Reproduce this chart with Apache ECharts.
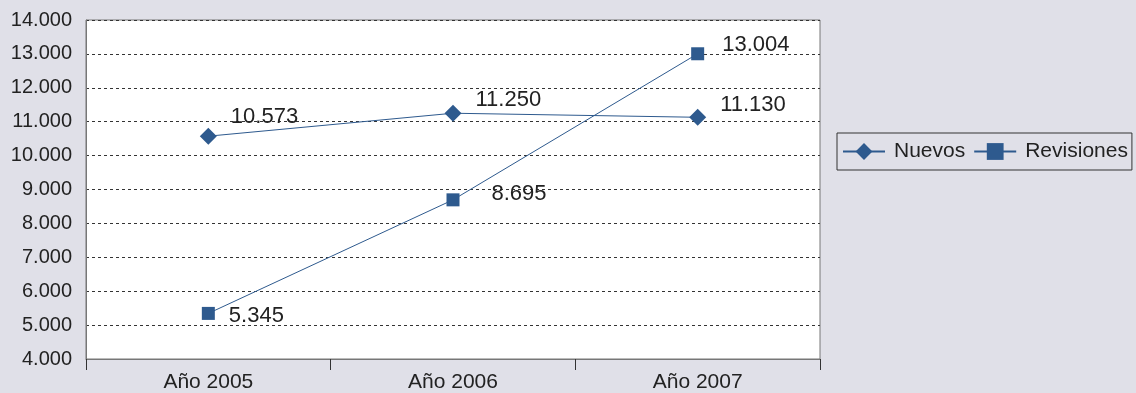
<!DOCTYPE html>
<html><head><meta charset="utf-8">
<script src="https://cdn.jsdelivr.net/npm/echarts@6/dist/echarts.min.js"></script>
<style>html,body{margin:0;padding:0;background:#e0e0e8;}#c{width:1136px;height:393px;}</style>
</head><body><div id="c"></div>
<script>
var categories = ['Año 2005', 'Año 2006', 'Año 2007'];
var nuevos = [10573, 11250, 11130];
var revisiones = [5345, 8695, 13004];
var seriesNames = ['Nuevos', 'Revisiones'];

function fmt(v){ return String(v).replace(/\B(?=(\d{3})+(?!\d))/g, '.'); }
var FONT = 'Liberation Sans';
var COLOR = '#2e5a8e';
var nuevosOffsets = [[0,-19],[0,-13],[0,-12]];
var revOffsets = [[0,3],[18,-6],[4,-9]];
function build(vals, offs){
  return vals.map(function(v,i){ return {value:v, label:{offset:offs[i]}}; });
}
var chart = echarts.init(document.getElementById('c'));
chart.setOption({
  backgroundColor:'#e0e0e8',
  animation:false,
  textStyle:{fontFamily:FONT},
  grid:{left:86, right:316, top:20, bottom:33, show:true, backgroundColor:'#ffffff', borderColor:'#777', borderWidth:1},
  legend:{
    data:seriesNames,
    left:837, top:133, width:296, orient:'horizontal',
    borderColor:'#333', borderWidth:1, padding:[8,4,8,5],
    itemGap:8, itemWidth:42, itemHeight:21,
    textStyle:{fontSize:21, color:'#222', fontFamily:FONT, padding:[0,0,0,4]}
  },
  xAxis:{
    type:'category', data:categories, boundaryGap:true,
    axisLine:{show:true, lineStyle:{color:'#777'}},
    axisTick:{show:true, length:11, inside:false, lineStyle:{color:'#333'}},
    axisLabel:{fontSize:21, color:'#222', margin:13, fontFamily:FONT}
  },
  yAxis:{
    type:'value', min:4000, max:14000, interval:1000,
    axisLine:{show:true, lineStyle:{color:'#777'}},
    axisTick:{show:false},
    axisLabel:{fontSize:20, color:'#222', margin:14, formatter:fmt, fontFamily:FONT},
    splitLine:{show:true, lineStyle:{color:'#333', type:[3,3], width:1}}
  },
  series:[
    {name:seriesNames[0], type:'line', data:build(nuevos, nuevosOffsets), symbol:'diamond', symbolSize:17,
     itemStyle:{color:COLOR}, lineStyle:{color:COLOR, width:1},
     label:{show:true, position:'right', distance:14, formatter:function(p){return fmt(p.value);}, fontSize:22, color:'#222', fontFamily:FONT}},
    {name:seriesNames[1], type:'line', data:build(revisiones, revOffsets), symbol:'rect', symbolSize:13,
     itemStyle:{color:COLOR}, lineStyle:{color:COLOR, width:1},
     label:{show:true, position:'right', distance:14, formatter:function(p){return fmt(p.value);}, fontSize:22, color:'#222', fontFamily:FONT}}
  ]
});
</script></body></html>
